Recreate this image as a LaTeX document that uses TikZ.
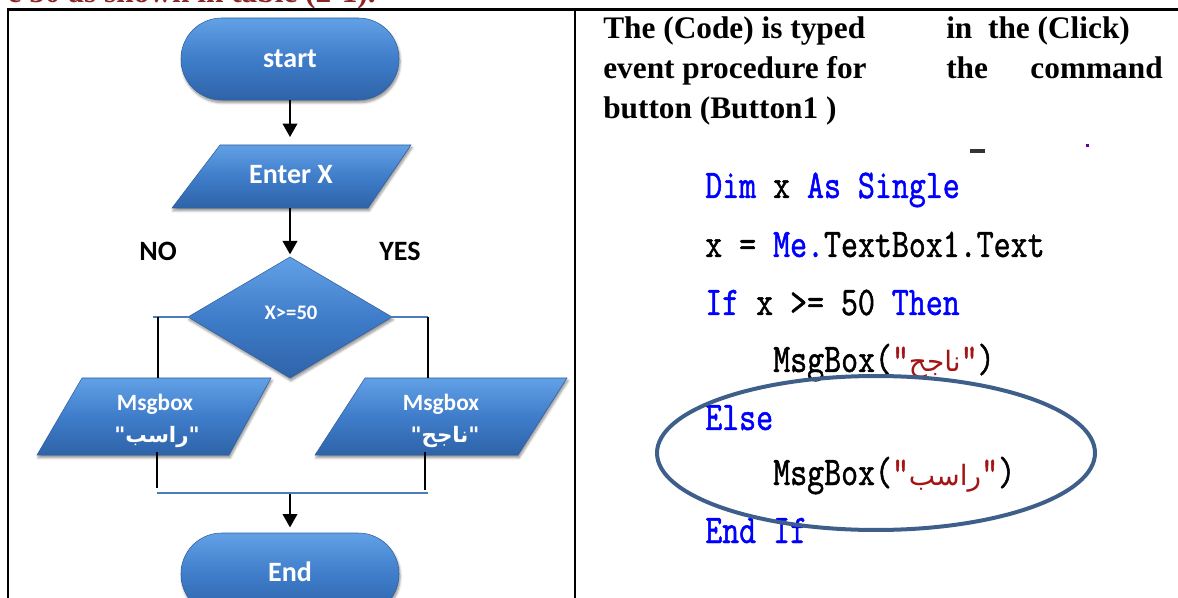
\documentclass[tikz,border=0pt]{standalone}
\usepackage{fontspec}
\setmainfont{Liberation Serif}
\newfontfamily\carlito{Carlito}
\newfontfamily\codefont[FakeStretch=0.81,FakeBold=1.2]{Latin Modern Mono}
\newfontfamily\arabicfont[Script=Arabic]{DejaVu Sans}
\TeXXeTstate=1
\usetikzlibrary{arrows.meta,shadows.blur}
\definecolor{fcTop}{HTML}{62A0E6}
\definecolor{fcMid}{HTML}{3F7DCA}
\definecolor{fcBot}{HTML}{2E63A8}
\definecolor{fcEdge}{HTML}{2F5F9E}
\definecolor{conn}{HTML}{4A7EBB}
\definecolor{kw}{HTML}{0000FF}
\definecolor{str}{HTML}{A31515}
\definecolor{ringc}{HTML}{3E5F8A}
\definecolor{headred}{HTML}{8B2525}
\begin{document}
\begin{tikzpicture}[x=0.75pt,y=-0.75pt,
  flowfill/.style={top color=fcTop, bottom color=fcBot, middle color=fcMid,
    draw=fcEdge, line width=0.4pt,
    blur shadow={shadow xshift=0.8pt, shadow yshift=-2pt, shadow blur steps=6, shadow opacity=45}},
  term/.style={flowfill, rounded corners=30.5pt, minimum width=163.5pt, minimum height=61.5pt,
    inner sep=0pt},
  wlabel/.style={text=white, font=\carlito\bfseries\fontsize{21}{24}\selectfont},
  mlabel/.style={text=white, font=\carlito\bfseries\fontsize{17.5}{20}\selectfont},
  dlabel/.style={text=white, font=\carlito\bfseries\fontsize{15.5}{18}\selectfont},
  arlabel/.style={text=white, font=\arabicfont\bfseries\fontsize{16}{19}\selectfont},
  branchlabel/.style={text=black, font=\carlito\bfseries\fontsize{21}{24}\selectfont},
  arr/.style={draw=black, line width=1.1pt, -{Triangle[width=11pt,length=10pt]}},
  blk/.style={draw=black, line width=1.1pt},
  bline/.style={draw=conn, line width=1.5pt},
  border/.style={draw=black, line width=2.2pt},
  para/.style={anchor=base west, inner sep=0pt, font=\bfseries\fontsize{23.5}{28}\selectfont},
  codeline/.style={anchor=base west, inner sep=0pt, font=\codefont\fontsize{30.5}{34}\selectfont},
  ring/.style={draw=ringc, line width=3pt}
]
\useasboundingbox (0,0) rectangle (1178,598);

% partially visible heading above the table (cut by the top edge, as in the source)
\node[anchor=base east, inner sep=0pt, text=headred, font=\bfseries\fontsize{23.5}{28}\selectfont]
  (head) at (376,2.5) {e 50 as shown in table (2-1).};

% table borders
\draw[border] (8,598) -- (8,9.5) -- (1178,9.5);
\draw[border] (575,9.5) -- (575,598);

% ---------- flowchart ----------
\node[term] (start) at (290,59) {};
\node[wlabel] (starttxt) at (start.center) {start};

\coordinate (enter-n) at (290,145);
\coordinate (enter-s) at (290,208);
\path[flowfill] (172,208) -- (220,145) -- (411,145) -- (368,208) -- cycle;
\node[wlabel] (enter) at (291,175) {Enter X};

\coordinate (dec-n) at (290,257);
\coordinate (dec-e) at (392,317);
\coordinate (dec-s) at (290,378);
\coordinate (dec-w) at (188,317);
\path[flowfill] (dec-n) -- (dec-e) -- (dec-s) -- (dec-w) -- cycle;
\node[dlabel] (dec) at (291,313) {X>=50};

\node[branchlabel] (no) at (158,251) {NO};
\node[branchlabel] (yes) at (400,251) {YES};

% NO box (left)
\path[flowfill] (37,455) -- (82,378) -- (271,378) -- (229,455) -- cycle;
\node[mlabel] (nomsg) at (155,404) {Msgbox};
\node[arlabel] (noar) at (157,437) {"\beginR راسب\endR"};

% YES box (right)
\path[flowfill] (315,455) -- (365,378) -- (567,378) -- (518,455) -- cycle;
\node[mlabel] (yesmsg) at (441,404) {Msgbox};
\node[arlabel] (yesar) at (445,437) {"\beginR ناجح\endR"};

\node[term] (end) at (290,574) {};
\node[wlabel] (endtxt) at (290,572) {End};

% connectors
\draw[arr, shorten >=6pt] (start.south) -- (enter-n);
\draw[arr, shorten >=2pt] (enter-s) -- (dec-n);

\coordinate (nol) at (153,317);
\coordinate (nov) at (158,317);
\coordinate (no-n) at (158,378);
\coordinate (yesr) at (428,317);
\coordinate (yes-n) at (428,378);
\draw[bline] (dec-w) -- (nol);
\draw[blk] (nov) -- (no-n);
\draw[bline] (dec-e) -- (yesr);
\draw[blk] (yesr) -- (yes-n);

\coordinate (no-s) at (157,452);
\coordinate (noj) at (157,488);
\coordinate (yes-s) at (425,452);
\coordinate (yesj) at (425,490);
\coordinate (hl) at (157,493);
\coordinate (hr) at (428,493);
\coordinate (join) at (290,494);
\draw[blk] (no-s) -- (noj);
\draw[blk] (yes-s) -- (yesj);
\draw[bline] (hl) -- (hr);
\draw[arr, shorten >=4pt] (join) -- (end.north);

% ---------- right column ----------
\node[para] (p1a) at (603,39) {The (Code) is typed};
\node[para] (p1b) at (946,39) {in\ \ the (Click)};
\node[para] (p2a) at (603,79) {event procedure for};
\node[para] (p2b) at (946,79) {the};
\node[para, anchor=base east] (p2c) at (1163,79) {command};
\node[para] (p3a) at (603,119) {button (Button1 )};

% small marks
\draw[line width=2.5pt, draw=black!80] (970,151) -- (985,151);
\fill[fill=blue!60!red] (1086,144) rectangle (1089,147);

% code
\node[codeline] (c1) at (705,198) {{\color{kw}Dim} x {\color{kw}As Single}};
\node[codeline] (c2) at (705,257) {x = {\color{kw}Me.}TextBox1.Text};
\node[codeline] (c3) at (705,315) {{\color{kw}If} x >= 50 {\color{kw}Then}};
\node[codeline] (c4) at (773,372) {MsgBox({\color{str}"{\arabicfont\fontsize{21}{24}\selectfont\beginR ناجح\endR}"})};
\node[codeline] (c5) at (705,430) {{\color{kw}Else}};
\node[codeline] (c6) at (773,485) {MsgBox({\color{str}"{\arabicfont\fontsize{21}{24}\selectfont\beginR راسب\endR}"})};
\node[codeline] (c7) at (705,543) {{\color{kw}End If}};

\draw[ring] (876,453) ellipse [x radius=219, y radius=77];
\end{tikzpicture}
\end{document}
